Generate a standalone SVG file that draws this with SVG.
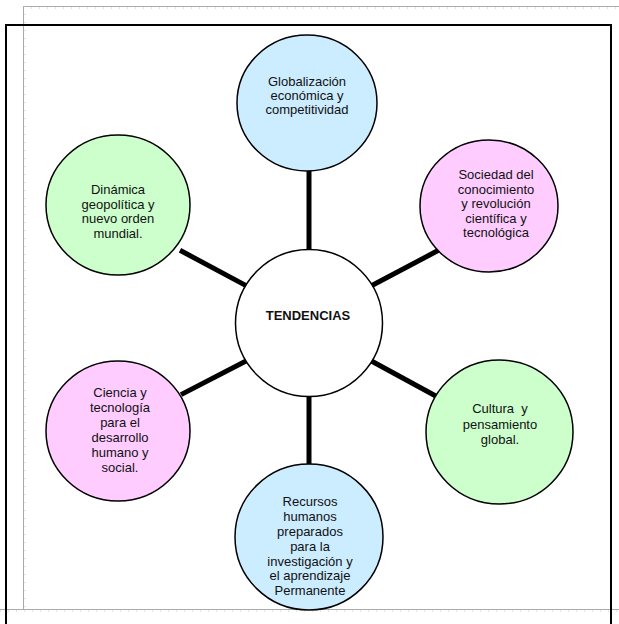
<svg xmlns="http://www.w3.org/2000/svg" width="619" height="624" viewBox="0 0 619 624">
<style>
  .n { stroke: #000; stroke-width: 1.5; }
  .blue { fill: #CCECFF; }
  .pink { fill: #FFCCFF; }
  .green { fill: #CCFFCC; }
  .white { fill: #FFFFFF; }
  text { font-family: "Liberation Sans", Arial, sans-serif; font-size: 13px; fill: #111; text-anchor: middle; }
  .b { font-weight: bold; }
  .c { stroke: #000; stroke-width: 5; stroke-linecap: butt; fill: none; }
  .ruler { stroke: #aaa; stroke-width: 1; fill: none; }
  .tick { stroke: #c8c8c8; stroke-width: 1; stroke-dasharray: 1 7; fill: none; }
</style>
<rect width="619" height="624" fill="#fff"/>
<g id="rulers">
  <line class="ruler" x1="23" y1="6.5" x2="619" y2="6.5"/>
  <line class="tick" x1="23" y1="8" x2="619" y2="8"/>
  <line class="ruler" x1="23.5" y1="6" x2="23.5" y2="610"/>
  <line class="tick" x1="25" y1="6" x2="25" y2="610"/>
  <line class="ruler" x1="0" y1="609.5" x2="619" y2="609.5"/>
  <line class="tick" x1="0" y1="611" x2="619" y2="611"/>
</g>
<rect x="6" y="25" width="605" height="610" fill="none" stroke="#000" stroke-width="2"/>
<g id="connectors">
  <line class="c" x1="309" y1="165" x2="309" y2="252"/>
  <line class="c" x1="309" y1="394" x2="309" y2="466"/>
  <line class="c" x1="180" y1="250.3" x2="247" y2="286.1"/>
  <line class="c" x1="370.5" y1="286.2" x2="438.5" y2="250.3"/>
  <line class="c" x1="181" y1="394.6" x2="247" y2="360.5"/>
  <line class="c" x1="370.5" y1="360.5" x2="438.5" y2="397.5"/>
</g>
<g id="n-globalizacion">
  <ellipse class="n blue" cx="307" cy="103" rx="70" ry="68"/>
  <text x="307" y="86">Globalización</text>
  <text x="307" y="100">económica y</text>
  <text x="307" y="114">competitividad</text>
</g>
<g id="n-sociedad">
  <ellipse class="n pink" cx="489" cy="206" rx="69" ry="66"/>
  <text x="496" y="179">Sociedad del</text>
  <text x="496" y="193.5">conocimiento</text>
  <text x="496" y="208">y revolución</text>
  <text x="496" y="222.5">científica y</text>
  <text x="496" y="237">tecnológica</text>
</g>
<g id="n-dinamica">
  <ellipse class="n green" cx="118" cy="205" rx="72" ry="70"/>
  <text x="118" y="194">Dinámica</text>
  <text x="118" y="208.5">geopolítica y</text>
  <text x="118" y="223">nuevo orden</text>
  <text x="118" y="237.5">mundial.</text>
</g>
<g id="n-tendencias">
  <circle class="n white" cx="309" cy="323" r="73.5"/>
  <text class="b" x="308" y="320">TENDENCIAS</text>
</g>
<g id="n-ciencia">
  <ellipse class="n pink" cx="118" cy="431" rx="72" ry="70"/>
  <text x="120" y="397">Ciencia y</text>
  <text x="120" y="412">tecnología</text>
  <text x="120" y="427">para el</text>
  <text x="120" y="442">desarrollo</text>
  <text x="120" y="457">humano y</text>
  <text x="120" y="472">social.</text>
</g>
<g id="n-cultura">
  <ellipse class="n green" cx="499.5" cy="432" rx="73.5" ry="72"/>
  <text x="500" y="413" xml:space="preserve">Cultura  y</text>
  <text x="500" y="429">pensamiento</text>
  <text x="500" y="444">global.</text>
</g>
<g id="n-recursos">
  <ellipse class="n blue" cx="309" cy="537" rx="74" ry="73"/>
  <text x="310" y="506">Recursos</text>
  <text x="310" y="521">humanos</text>
  <text x="310" y="536">preparados</text>
  <text x="310" y="551">para la</text>
  <text x="310" y="565.5">investigación y</text>
  <text x="310" y="580">el aprendizaje</text>
  <text x="310" y="595">Permanente</text>
</g>
</svg>
